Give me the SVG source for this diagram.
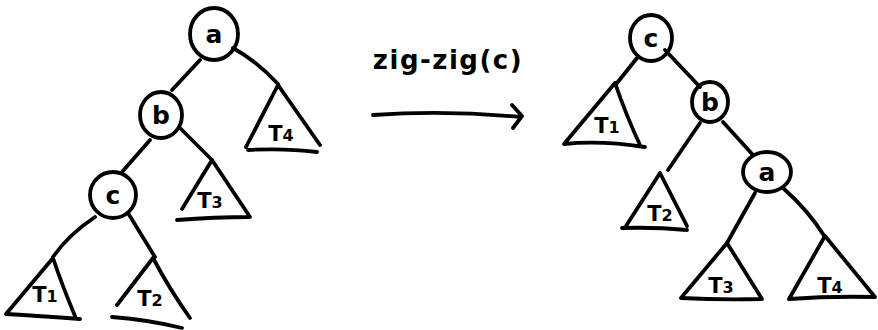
<svg xmlns="http://www.w3.org/2000/svg" width="878" height="330" viewBox="0 0 878 330">
<style>
.s{fill:none;stroke:#000;stroke-width:3.8;stroke-linecap:round;stroke-linejoin:round}
.n{font-family:"DejaVu Sans","Liberation Sans",sans-serif;font-weight:bold;font-size:25px;text-anchor:middle;fill:#000}
.t{font-family:"DejaVu Sans","Liberation Sans",sans-serif;font-weight:bold;font-size:21px;text-anchor:middle;fill:#000}
.t tspan{font-size:16px}
.l{font-family:"DejaVu Sans","Liberation Sans",sans-serif;font-weight:bold;font-size:26px;letter-spacing:1.5px;text-anchor:middle;fill:#000}
</style>
<rect width="878" height="330" fill="#fff"/>
<g id="connectors">
<path class="s" d="M200 60 L172 90"/>
<path class="s" d="M233 48 Q258 62 278 84"/>
<path class="s" d="M150 140 L122 172"/>
<path class="s" d="M180 128 L212 160"/>
<path class="s" d="M95 217 Q68 235 53 257"/>
<path class="s" d="M128 213 L155 257"/>
<path class="s" d="M637 58 L617 83"/>
<path class="s" d="M665 50 L700 87"/>
<path class="s" d="M700 123 L668 170"/>
<path class="s" d="M723 122 L753 155"/>
<path class="s" d="M755 193 L727 243"/>
<path class="s" d="M783 188 Q808 210 825 237"/>
<path class="s" d="M373 115 Q445 110 521 117 M512 105 L522 116 L513 128"/>
</g>
<g id="label-zigzig"><text class="l" x="448" y="69">zig-zig(c)</text></g>
<g id="L-a"><ellipse class="s" cx="214" cy="34" rx="24" ry="26"/><text class="n" x="214" y="43">a</text></g>
<g id="L-b"><ellipse class="s" cx="161" cy="115" rx="21" ry="23"/><text class="n" x="161" y="124">b</text></g>
<g id="L-c"><ellipse class="s" cx="113" cy="195" rx="23" ry="23"/><text class="n" x="113" y="204">c</text></g>
<g id="L-T1"><path class="s" d="M53 258 L6 314 Q40 316 80 319 M53 258 Q62 285 75 316"/><text class="t" x="45" y="302">T<tspan>1</tspan></text></g>
<g id="L-T2"><path class="s" d="M153 258 L117 305 M153 258 Q170 290 190 318 M112 317 Q150 320 182 328"/><text class="t" x="150" y="306">T<tspan>2</tspan></text></g>
<g id="L-T3"><path class="s" d="M212 160 L182 209 M212 160 L250 217 Q215 217 177 220"/><text class="t" x="210" y="208">T<tspan>3</tspan></text></g>
<g id="L-T4"><path class="s" d="M278 85 L246 147 M278 85 L320 145 M248 150 Q285 148 317 152"/><text class="t" x="281" y="141">T<tspan>4</tspan></text></g>
<g id="R-c"><ellipse class="s" cx="651" cy="38" rx="21" ry="23"/><text class="n" x="651" y="47">c</text></g>
<g id="R-b"><ellipse class="s" cx="710" cy="102" rx="18" ry="20"/><text class="n" x="710" y="111">b</text></g>
<g id="R-a"><ellipse class="s" cx="767" cy="172" rx="24" ry="20"/><text class="n" x="767" y="181">a</text></g>
<g id="R-T1"><path class="s" d="M615 83 L564 144 Q600 140 645 147 M615 83 Q626 115 640 145"/><text class="t" x="607" y="133">T<tspan>1</tspan></text></g>
<g id="R-T2"><path class="s" d="M660 173 L626 226 M660 173 L687 226 M622 228 Q655 227 687 230"/><text class="t" x="660" y="221">T<tspan>2</tspan></text></g>
<g id="R-T3"><path class="s" d="M727 243 L681 298 Q720 300 762 299 L727 243"/><text class="t" x="721" y="293">T<tspan>3</tspan></text></g>
<g id="R-T4"><path class="s" d="M825 236 L789 299 Q830 296 875 297 L825 236"/><text class="t" x="830" y="293">T<tspan>4</tspan></text></g>
</svg>
